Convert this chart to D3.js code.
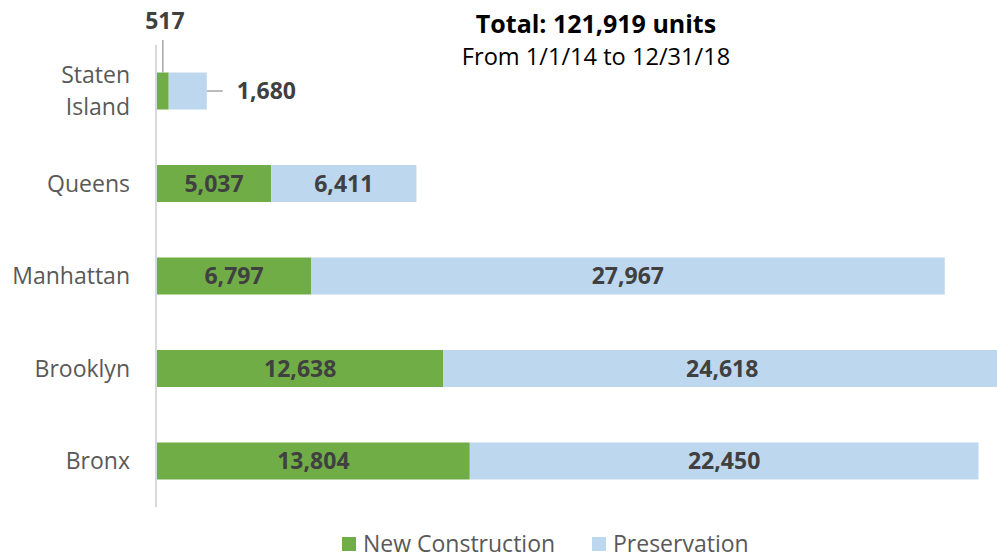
<!DOCTYPE html>
<html>
<head>
<meta charset="utf-8">
<script src="https://cdn.jsdelivr.net/npm/d3@7"></script>
<style>
  body { margin: 0; background: #fff; }
  text { font-family: "Open Sans", sans-serif; }
</style>
</head>
<body>
<div id="chart"></div>
<script>
const boroughs = ["Staten Island", "Queens", "Manhattan", "Brooklyn", "Bronx"];
const newConstruction = [517, 5037, 6797, 12638, 13804];
const preservation = [1680, 6411, 27967, 24618, 22450];
const seriesNames = ["New Construction", "Preservation"];
const titleText = "Total: 121,919 units";
const subtitleText = "From 1/1/14 to 12/31/18";

const width = 997, height = 560;
const colors = ["#70ad47", "#bdd7ee"];
const fmt = d3.format(",");

const rows = boroughs.map((b, i) => ({
  name: b,
  nc: newConstruction[i],
  pr: preservation[i]
}));

const svg = d3.select("#chart").append("svg")
  .attr("width", width)
  .attr("height", height);

const x = d3.scaleLinear()
  .domain([0, 36254])
  .range([157, 978.5]);

const y = d3.scaleBand()
  .domain(boroughs)
  .range([44.75, 507.25])
  .paddingInner(0.6)
  .paddingOuter(0.3);

const layers = d3.stack().keys(["nc", "pr"])(rows);

// bars
svg.selectAll("g.layer")
  .data(layers)
  .enter()
  .append("g")
  .attr("class", "layer")
  .attr("fill", (d, i) => colors[i])
  .selectAll("rect")
  .data(d => d)
  .enter()
  .append("rect")
  .attr("x", d => x(d[0]))
  .attr("width", d => x(d[1]) - x(d[0]))
  .attr("y", d => y(d.data.name))
  .attr("height", y.bandwidth());

// axis line
svg.append("line")
  .attr("x1", 156).attr("x2", 156)
  .attr("y1", y.range()[0]).attr("y2", y.range()[1])
  .attr("stroke", "#d9d9d9")
  .attr("stroke-width", 2);

// category labels
svg.selectAll(".cat")
  .data(boroughs)
  .enter()
  .append("text")
  .attr("class", "cat")
  .attr("text-anchor", "end")
  .attr("fill", "#595959")
  .style("font-size", "23px")
  .each(function(d) {
    const t = d3.select(this);
    const cy = y(d) + y.bandwidth() / 2;
    const words = d === "Staten Island" ? ["Staten", "Island"] : [d];
    words.forEach((w, k) => {
      t.append("tspan")
        .attr("x", 130)
        .attr("y", cy + (k - (words.length - 1) / 2) * 32)
        .attr("dy", "0.35em")
        .text(w);
    });
  });

// value labels inside bars (Staten Island gets callouts instead)
layers.forEach(l => {
  svg.selectAll(null)
    .data(l.filter(d => d.data.name !== "Staten Island"))
    .enter()
    .append("text")
    .attr("x", d => (x(d[0]) + x(d[1])) / 2)
    .attr("y", d => y(d.data.name) + y.bandwidth() / 2)
    .attr("dy", "0.35em")
    .attr("text-anchor", "middle")
    .attr("fill", "#404040")
    .style("font-size", "23px")
    .style("font-weight", "bold")
    .text(d => fmt(d[1] - d[0]));
});

// Staten Island callouts
const si = rows[0];
const siTop = y(si.name);
const siMid = siTop + y.bandwidth() / 2;
const ncMidX = (x(0) + x(si.nc)) / 2;

svg.append("line")
  .attr("x1", ncMidX).attr("x2", ncMidX)
  .attr("y1", 40).attr("y2", siTop)
  .attr("stroke", "#a6a6a6").attr("stroke-width", 1.5);
svg.append("text")
  .attr("x", ncMidX + 2)
  .attr("y", 29)
  .attr("text-anchor", "middle")
  .attr("fill", "#404040")
  .style("font-size", "23px")
  .style("font-weight", "bold")
  .text(fmt(si.nc));

const prEnd = x(si.nc + si.pr);
svg.append("line")
  .attr("x1", prEnd).attr("x2", prEnd + 16)
  .attr("y1", siMid).attr("y2", siMid)
  .attr("stroke", "#a6a6a6").attr("stroke-width", 1.5);
svg.append("text")
  .attr("x", prEnd + 30)
  .attr("y", siMid)
  .attr("dy", "0.35em")
  .attr("fill", "#404040")
  .style("font-size", "23px")
  .style("font-weight", "bold")
  .text(fmt(si.pr));

// title
svg.append("text")
  .attr("x", 596).attr("y", 33)
  .attr("text-anchor", "middle")
  .attr("fill", "#000")
  .style("font-size", "25px")
  .style("font-weight", "bold")
  .text(titleText);
svg.append("text")
  .attr("x", 596).attr("y", 65)
  .attr("text-anchor", "middle")
  .attr("fill", "#000")
  .style("font-size", "23.6px")
  .text(subtitleText);

// legend
const legendX = [342, 592];
const legend = svg.selectAll(".legend")
  .data(seriesNames)
  .enter()
  .append("g")
  .attr("class", "legend")
  .attr("transform", (d, i) => "translate(" + legendX[i] + ",537)");
legend.append("rect")
  .attr("width", 14).attr("height", 14)
  .attr("fill", (d, i) => colors[i]);
legend.append("text")
  .attr("x", 21).attr("y", 7)
  .attr("dy", "0.35em")
  .attr("fill", "#595959")
  .style("font-size", "23px")
  .text(d => d);
</script>
</body>
</html>
